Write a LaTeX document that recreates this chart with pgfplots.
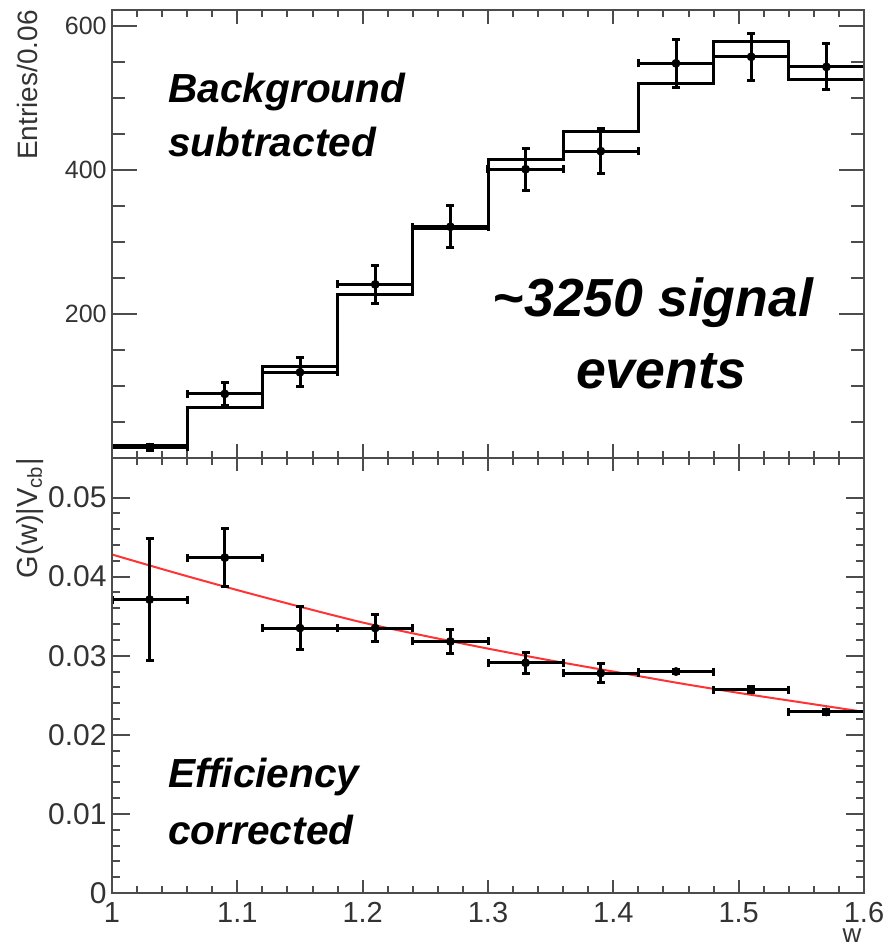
\documentclass[border=0pt]{standalone}
\usepackage{fontspec}
\setmainfont{Liberation Sans}
\usepackage{pgfplots}
\pgfplotsset{compat=1.18}
\definecolor{axgray}{gray}{0.3}
\definecolor{lblgray}{gray}{0.2}
\definecolor{fitred}{rgb}{1,0.2,0.2}
\begin{document}
\begin{tikzpicture}
\tikzset{annot/.style={anchor=base west, inner sep=0pt, font={\fontsize{20.3}{24}\selectfont\bfseries\itshape}}}
\pgfplotsset{
  base/.style={scale only axis, width=376pt, xmin=1, xmax=1.6,
    axis line style={line width=1pt, draw=axgray},
    tick style={line width=1pt, color=axgray},
    tick align=inside, scaled y ticks=false, scaled x ticks=false,
    /pgf/number format/assume math mode=true},
  toppanel/.style={base, at={(56pt,242.5pt)}, anchor=south west, height=224pt, ymin=0, ymax=622},
  botpanel/.style={base, at={(56pt,25pt)}, anchor=south west, height=217.5pt, ymin=0, ymax=0.055},
  errs/.style={mark=*, mark size=2pt, black, only marks,
    error bars/.cd, x dir=both, x explicit, y dir=both, y explicit,
    error bar style={line width=1.5pt, black},
    error mark options={rotate=90, line width=1.5pt, mark size=2pt, black}},
}
% ---------------- top panel ----------------
\begin{axis}[toppanel, xtick=\empty,
  ytick={200,400,600},
  minor ytick={50,100,150,250,300,350,450,500,550},
  major tick length=12.5pt, minor tick length=6.5pt,
  yticklabel style={font=\fontsize{12.5}{15}\selectfont, color=lblgray, inner sep=0pt, xshift=-2.5pt}]
\addplot[const plot mark left, line width=1.5pt, black] coordinates {
 (1.00,18) (1.06,70) (1.12,127) (1.18,227) (1.24,318) (1.30,414)
 (1.36,453) (1.42,520) (1.48,578) (1.54,526) (1.60,526)};
\addplot[errs] table[x=x, y=y, x error=ex, y error=ey] {
x ex y ey
1.03 0.03 15 4
1.09 0.03 89 16
1.15 0.03 119 20
1.21 0.03 241 26
1.27 0.03 321 29
1.33 0.03 401 29
1.39 0.03 426 31
1.45 0.03 548 33
1.51 0.03 557 33
1.57 0.03 543 32
};
\node[annot] at (axis cs:1.0447,493) {Background};
\node[annot] at (axis cs:1.0447,419) {subtracted};
\node[anchor=base, inner sep=0pt, font={\fontsize{26.8}{30}\selectfont\bfseries\itshape}] at (axis cs:1.4317,197) {\textasciitilde3250 signal};
\node[anchor=base, inner sep=0pt, font={\fontsize{26.8}{30}\selectfont\bfseries\itshape}] at (axis cs:1.438,96) {events};
\end{axis}
\begin{axis}[toppanel, ytick=\empty,
  xtick={1,1.1,1.2,1.3,1.4,1.5,1.6}, minor x tick num=4, xticklabels={},
  major tick length=7pt, minor tick length=3.5pt]
\end{axis}
% ---------------- bottom panel ----------------
\begin{axis}[botpanel, xtick=\empty,
  ytick={0,0.01,0.02,0.03,0.04,0.05},
  yticklabels={0,0.01,0.02,0.03,0.04,0.05},
  minor y tick num=4,
  major tick length=9pt, minor tick length=4pt,
  yticklabel style={font=\fontsize{15}{17}\selectfont, color=lblgray, inner sep=0pt, xshift=-2.5pt}]
\addplot[fitred, line width=1pt, smooth] coordinates {
 (1.00,0.0428) (1.05,0.0405) (1.10,0.0383) (1.15,0.0362) (1.20,0.0342)
 (1.25,0.0325) (1.30,0.0309) (1.35,0.0294) (1.40,0.0280) (1.45,0.0266)
 (1.50,0.0253) (1.55,0.0241) (1.60,0.0229)};
\addplot[errs] table[x=x, y=y, x error=ex, y error=ey] {
x ex y ey
1.03 0.03 0.0371 0.0077
1.09 0.03 0.0424 0.0037
1.15 0.03 0.0335 0.0027
1.21 0.03 0.0335 0.0017
1.27 0.03 0.0318 0.0015
1.33 0.03 0.0291 0.0013
1.39 0.03 0.0278 0.0012
1.45 0.03 0.0280 0.0003
1.51 0.03 0.0257 0.0004
1.57 0.03 0.0229 0.0003
};
\node[annot] at (axis cs:1.0447,0.01329) {Efficiency};
\node[annot] at (axis cs:1.0447,0.00608) {corrected};
\end{axis}
\begin{axis}[botpanel, ytick=\empty,
  xtick={1,1.1,1.2,1.3,1.4,1.5,1.6}, minor x tick num=4,
  major tick length=6.5pt, minor tick length=3.5pt,
  xticklabel style={font=\fontsize{14.5}{17}\selectfont, color=lblgray, inner sep=0pt, yshift=-4.5pt}]
\end{axis}
% ---------------- axis titles ----------------
\node[rotate=90, anchor=base east, inner sep=0pt, font={\fontsize{14}{16}\selectfont}, color=lblgray] at (18.5pt,466.5pt) {Entries/0.06};
\node[rotate=90, anchor=base east, inner sep=0pt, font={\fontsize{14.5}{16}\selectfont}, color=lblgray] at (18.5pt,242.5pt) {G(w)|V\textsubscript{cb}|};
\node[anchor=north, inner sep=0pt, font={\fontsize{13}{15}\selectfont}, color=lblgray] at (426pt,7.5pt) {w};
\pgfresetboundingbox
\useasboundingbox (0,0) rectangle (442.5pt,471.5pt);
\end{tikzpicture}
\end{document}
